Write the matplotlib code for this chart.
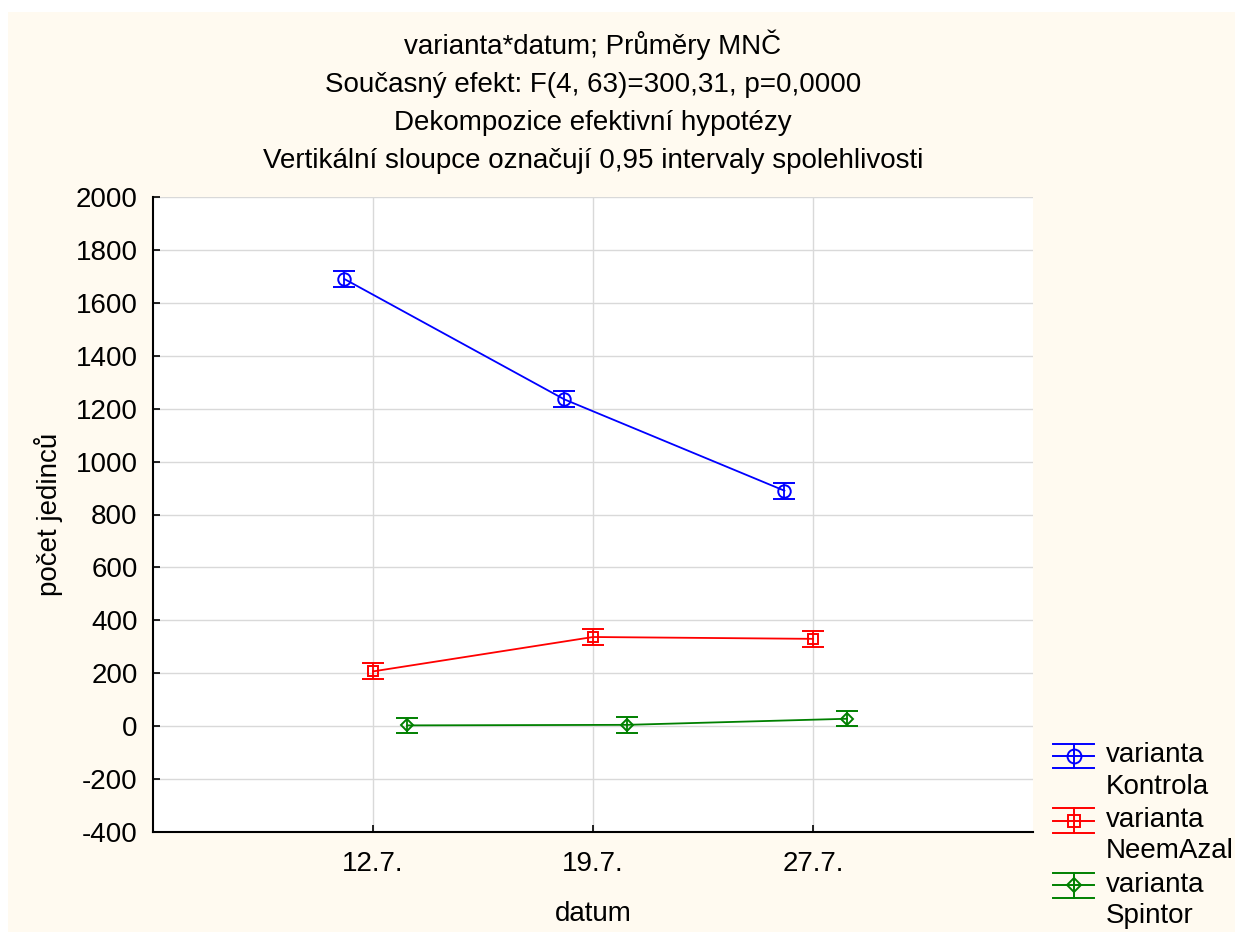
import matplotlib
matplotlib.use("Agg")
import matplotlib.pyplot as plt
from matplotlib.patches import Rectangle
from matplotlib.lines import Line2D
from matplotlib.legend_handler import HandlerBase
import numpy as np

plt.rcParams['font.family'] = ['Liberation Sans', 'DejaVu Sans']
plt.rcParams['axes.unicode_minus'] = False

# data
dates = ["12.7.", "19.7.", "27.7."]
series = ["varianta\nKontrola", "varianta\nNeemAzal", "varianta\nSpintor"]
kontrola = [1690, 1235, 890]
neemazal = [207, 337, 330]
spintor = [3, 5, 28]
ci_kontrola = [30, 30, 30]
ci_neemazal = [30, 30, 30]
ci_spintor = [29, 29, 29]

colors = ['#0000ff', '#ff0000', '#008000']
markers = ['o', 's', 'D']
msizes = [9, 7.5, 6.5]
offsets = [-0.13, 0.0, 0.155]
FS = 20


class StatHandle(HandlerBase):
    """errorbar glyph like the original: three full-width bars + marker"""
    def __init__(self, color, marker, ms, lift=0.0):
        super().__init__()
        self.color, self.marker, self.ms, self.lift = color, marker, ms, lift

    def create_artists(self, legend, orig_handle, xdescent, ydescent,
                       width, height, fontsize, trans):
        x0, x1 = -xdescent, -xdescent + width
        yc = -ydescent + height / 2 + self.lift * fontsize
        h = 0.44 * fontsize
        xc = (x0 + x1) / 2
        kw = dict(color=self.color, linewidth=1.4, transform=trans)
        arts = [Line2D([x0, x1], [yc, yc], **kw),
                Line2D([x0, x1], [yc + h, yc + h], **kw),
                Line2D([x0, x1], [yc - h, yc - h], **kw),
                Line2D([xc, xc], [yc - h, yc + h], **kw),
                Line2D([xc], [yc], marker=self.marker, markersize=self.ms + 1,
                       markerfacecolor='none', markeredgecolor=self.color,
                       markeredgewidth=1.4, linestyle='none', transform=trans)]
        return arts


fig = plt.figure(figsize=(12.35, 9.32), dpi=100)
fig.patch.set_facecolor('white')
# cream panel with a thin white margin on top/left
fig.patches.append(Rectangle((8 / 1235, 0), 1, 1 - 12 / 932, transform=fig.transFigure,
                             facecolor='#fffaf0', edgecolor='none', zorder=-10))

ax = fig.add_axes([153 / 1235, 100 / 932, 880 / 1235, 635 / 932])
ax.set_facecolor('white')

x = np.arange(1, len(dates) + 1)
vals = [kontrola, neemazal, spintor]
cis = [ci_kontrola, ci_neemazal, ci_spintor]
handles = []
for i in range(3):
    eb = ax.errorbar(x + offsets[i], vals[i], yerr=cis[i], color=colors[i],
                     marker=markers[i], markersize=msizes[i], markerfacecolor='none',
                     markeredgewidth=1.4, linewidth=1.3, capsize=8, capthick=1.4,
                     elinewidth=1.3, label=series[i], zorder=3)
    handles.append(eb)

ax.set_xlim(0, 4)
ax.set_ylim(-400, 2000)
ax.set_xticks(x)
ax.set_xticklabels(dates)
ax.set_yticks(np.arange(-400, 2001, 200))
ax.grid(True, color='#d9d9d9', linewidth=1.0)
ax.set_axisbelow(True)
ax.tick_params(labelsize=FS, length=5, width=1.2, direction='in')
ax.tick_params(axis='x', pad=14)
ax.tick_params(axis='y', pad=11)
for side in ['top', 'right']:
    ax.spines[side].set_visible(False)
for side in ['left', 'bottom']:
    ax.spines[side].set_linewidth(1.5)

ax.set_xlabel("datum", fontsize=FS, labelpad=17)
ax.set_ylabel("počet jedinců", fontsize=FS, labelpad=9)
ax.set_title("varianta*datum; Průměry MNČ\n"
             "Současný efekt: F(4, 63)=300,31, p=0,0000\n"
             "Dekompozice efektivní hypotézy\n"
             "Vertikální sloupce označují 0,95 intervaly spolehlivosti",
             fontsize=FS, linespacing=1.59, pad=21)

hmap = {handles[i]: StatHandle(colors[i], markers[i], msizes[i], lift=0.55)
        for i in range(3)}
leg = ax.legend(handles=handles, labels=series, handler_map=hmap,
                loc='upper left', bbox_to_anchor=(1053 / 1235, 190 / 932),
                bbox_transform=fig.transFigure, frameon=False, fontsize=FS,
                handlelength=1.48, handletextpad=0.42, labelspacing=0.26,
                borderaxespad=0, borderpad=0)
for t in leg.get_texts():
    t.set_linespacing(1.28)

fig.savefig("out.png", dpi=100, facecolor=fig.get_facecolor())
